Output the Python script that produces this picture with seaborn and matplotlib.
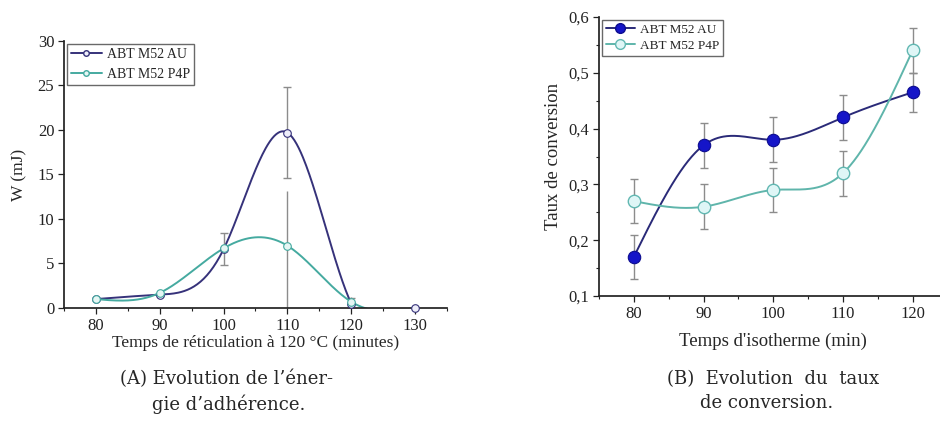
import numpy as np
import matplotlib
matplotlib.use("Agg")
import matplotlib.pyplot as plt
import pandas as pd
import seaborn as sns
from matplotlib.lines import Line2D
from matplotlib.ticker import MultipleLocator, FixedLocator, FixedFormatter

# --- data, panel A (adhesion energy) ---
temps_a = [80, 90, 100, 110, 120, 130]
w_au = [1.0, 1.5, 6.6, 19.7, 0.5, 0.0]
w_au_err = [0.1, 0.2, 1.8, 5.1, 0.6, 0.0]
w_p4p = [1.0, 1.7, 6.7, 7.0, 0.7, 0.0]
w_p4p_err_low = [0.1, 0.2, 0.0, 7.0, 0.5, 0.0]
w_p4p_err_high = [0.1, 0.2, 0.0, 6.1, 0.5, 0.0]

# --- data, panel B (conversion rate) ---
temps_b = [80, 90, 100, 110, 120]
conv_au = [0.17, 0.37, 0.38, 0.42, 0.465]
conv_au_err = [0.04, 0.04, 0.04, 0.04, 0.035]
conv_p4p = [0.27, 0.26, 0.29, 0.32, 0.54]
conv_p4p_err = [0.04, 0.04, 0.04, 0.04, 0.04]

yticks_b = [0.1, 0.2, 0.3, 0.4, 0.5, 0.6]
ytick_labels_b = ["0,1", "0,2", "0,3", "0,4", "0,5", "0,6"]
labels = ["ABT M52 AU", "ABT M52 P4P"]

NAVY = "#36327a"
TEAL = "#45aaa0"
BLUE = "#1515c8"
GREY = "#8c8c8c"


def spline_curve(x, y, n=300):
    """natural cubic spline through the points (like Origin's spline line)"""
    x = np.asarray(x, float)
    y = np.asarray(y, float)
    h = np.diff(x)
    k = len(x)
    A = np.zeros((k, k))
    b = np.zeros(k)
    A[0, 0] = A[-1, -1] = 1
    for i in range(1, k - 1):
        A[i, i - 1] = h[i - 1]
        A[i, i] = 2 * (h[i - 1] + h[i])
        A[i, i + 1] = h[i]
        b[i] = 6 * ((y[i + 1] - y[i]) / h[i] - (y[i] - y[i - 1]) / h[i - 1])
    M = np.linalg.solve(A, b)
    xs = np.linspace(x[0], x[-1], n)
    idx = np.clip(np.searchsorted(x, xs) - 1, 0, k - 2)
    x0, x1 = x[idx], x[idx + 1]
    hh = x1 - x0
    ys = (M[idx] * (x1 - xs) ** 3 / (6 * hh)
          + M[idx + 1] * (xs - x0) ** 3 / (6 * hh)
          + (y[idx] / hh - M[idx] * hh / 6) * (x1 - xs)
          + (y[idx + 1] / hh - M[idx + 1] * hh / 6) * (xs - x0))
    return pd.DataFrame({"x": xs, "y": ys})


sns.set_theme(style="ticks")
plt.rcParams["font.family"] = ["Liberation Serif", "DejaVu Serif"]
plt.rcParams["xtick.direction"] = "out"
plt.rcParams["ytick.direction"] = "out"

fig = plt.figure(figsize=(9.4, 4.23), dpi=100)
ax_a = fig.add_axes([0.0681, 0.2719, 0.4074, 0.6312])
ax_b = fig.add_axes([0.6372, 0.3002, 0.3707, 0.6596])

#panel A
ax_a.errorbar(temps_a, w_au, yerr=w_au_err, fmt="none", ecolor=GREY,
              elinewidth=1, capsize=3, zorder=1)
ax_a.errorbar(temps_a, w_p4p, yerr=[w_p4p_err_low, w_p4p_err_high], fmt="none",
              ecolor=GREY, elinewidth=1, capsize=0, zorder=1)

sns.lineplot(data=spline_curve(temps_a, w_au), x="x", y="y", ax=ax_a,
             color=NAVY, lw=1.4, sort=False, estimator=None, zorder=2)
sns.lineplot(data=spline_curve(temps_a, w_p4p), x="x", y="y", ax=ax_a,
             color=TEAL, lw=1.4, sort=False, estimator=None, zorder=2)
sns.scatterplot(x=temps_a, y=w_au, ax=ax_a, s=30, color="#eeeefa",
                edgecolor=NAVY, linewidth=0.8, zorder=3, clip_on=False)
sns.scatterplot(x=temps_a[:5], y=w_p4p[:5], ax=ax_a, s=30, color="#e6f6f4",
                edgecolor=TEAL, linewidth=0.8, zorder=3)

ax_a.set_xlim(75, 135)
ax_a.set_ylim(0, 30)
ax_a.xaxis.set_major_locator(MultipleLocator(10))
ax_a.xaxis.set_minor_locator(MultipleLocator(5))
ax_a.yaxis.set_major_locator(MultipleLocator(5))
ax_a.set_xlabel("Temps de réticulation à 120 °C (minutes)", fontsize=12.5,
                labelpad=1)
ax_a.set_ylabel("W (mJ)", fontsize=12.5, labelpad=7)

handles_a = [
    Line2D([], [], color=NAVY, lw=1.4, marker="o", ms=4,
           mfc="#eeeefa", mec=NAVY),
    Line2D([], [], color=TEAL, lw=1.4, marker="o", ms=4,
           mfc="#e6f6f4", mec=TEAL),
]
ax_a.legend(handles_a, labels, loc="upper left", fontsize=10,
            frameon=True, fancybox=False, edgecolor="#444444",
            borderaxespad=0.2, handlelength=2.2, handletextpad=0.4,
            borderpad=0.3, labelspacing=0.5)

#panel B
ax_b.errorbar(temps_b, conv_au, yerr=conv_au_err, fmt="none", ecolor=GREY,
              elinewidth=1, capsize=3, zorder=1)
ax_b.errorbar(temps_b, conv_p4p, yerr=conv_p4p_err, fmt="none", ecolor=GREY,
              elinewidth=1, capsize=3, zorder=1)

sns.lineplot(data=spline_curve(temps_b, conv_au), x="x", y="y", ax=ax_b,
             color="#2a2a78", lw=1.4, sort=False, estimator=None, zorder=2)
sns.lineplot(data=spline_curve(temps_b, conv_p4p), x="x", y="y", ax=ax_b,
             color="#5fb5ab", lw=1.4, sort=False, estimator=None, zorder=2)
sns.scatterplot(x=temps_b, y=conv_au, ax=ax_b, s=80, color=BLUE,
                edgecolor="#0c0c90", linewidth=0.8, zorder=3)
sns.scatterplot(x=temps_b, y=conv_p4p, ax=ax_b, s=80, color="#dff6f6",
                edgecolor="#62b8b2", linewidth=1.0, zorder=3)

ax_b.set_xlim(75, 125)
ax_b.set_ylim(0.1, 0.6)
ax_b.xaxis.set_major_locator(MultipleLocator(10))
ax_b.xaxis.set_minor_locator(MultipleLocator(5))
ax_b.yaxis.set_major_locator(FixedLocator(yticks_b))
ax_b.yaxis.set_major_formatter(FixedFormatter(ytick_labels_b))
ax_b.yaxis.set_minor_locator(MultipleLocator(0.05))
ax_b.set_xlabel("Temps d'isotherme (min)", fontsize=13.5, labelpad=8)
ax_b.set_ylabel("Taux de conversion", fontsize=13.5, labelpad=5)

handles_b = [
    Line2D([], [], color="#2a2a78", lw=1.4, marker="o", ms=7,
           mfc=BLUE, mec="#0c0c90"),
    Line2D([], [], color="#5fb5ab", lw=1.4, marker="o", ms=7,
           mfc="#dff6f6", mec="#62b8b2"),
]
ax_b.legend(handles_b, labels, loc="upper left", fontsize=9.5,
            frameon=True, fancybox=False, edgecolor="#444444",
            borderaxespad=0.2, handlelength=2.2, handletextpad=0.4,
            borderpad=0.3, labelspacing=0.3)

for ax in (ax_a, ax_b):
    sns.despine(ax=ax)
    ax.spines["left"].set_color("#222222")
    ax.spines["bottom"].set_color("#222222")
    ax.tick_params(axis="both", which="major", labelsize=12, length=4,
                   width=0.9, colors="#222222", pad=3)
    ax.tick_params(axis="both", which="minor", length=2.5, width=0.8,
                   colors="#222222")
    ax.set_facecolor("white")

# captions under each panel
cap_kw = dict(fontsize=13, va="top", ha="left", family=["DejaVu Serif"])
fig.text(120 / 940, 1 - 370 / 423, "(A) Evolution de l’éner-", **cap_kw)
fig.text(152 / 940, 1 - 394 / 423, "gie d’adhérence.", **cap_kw)
fig.text(667 / 940, 1 - 370 / 423, "(B)  Evolution  du  taux", **cap_kw)
fig.text(700 / 940, 1 - 394 / 423, "de conversion.", **cap_kw)

fig.savefig("out.png", dpi=100, facecolor="white")
